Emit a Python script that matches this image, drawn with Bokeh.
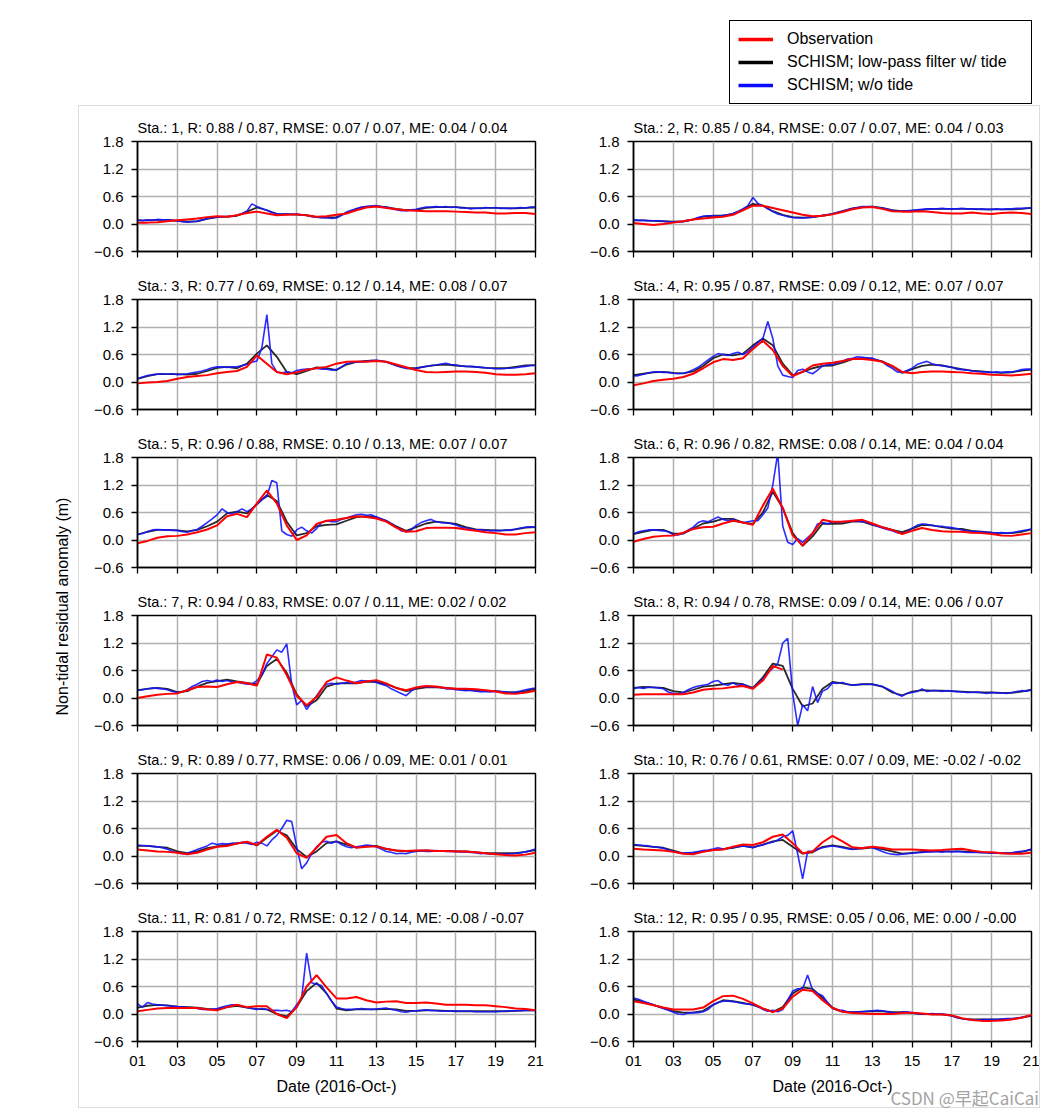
import numpy as np
from bokeh.plotting import figure
from bokeh.models import (Range1d, FixedTicker, Legend, LegendItem, Label, Div,
                          CustomJSTickFormatter)
from bokeh.layouts import row, column
from bokeh.embed import file_html
from bokeh.resources import INLINE

nan = np.nan

# ---------------- data ----------------
days_half = np.arange(1.0, 21.0001, 0.5)      # reading grid for smooth series
days_quarter = np.arange(1.0, 21.0001, 0.25)  # reading grid for the w/o-tide series

x_ticks = [1, 3, 5, 7, 9, 11, 13, 15, 17, 19, 21]
x_tick_labels = ["01", "03", "05", "07", "09", "11", "13", "15", "17", "19", "21"]
x_tick_blank = [""] * len(x_ticks)
y_ticks = [-0.6, 0.0, 0.6, 1.2, 1.8]
y_tick_labels = ["\u22120.6", "0.0", "0.6", "1.2", "1.8"]
x_axis_title = "Date (2016-Oct-)"
y_axis_title = "Non-tidal residual anomaly (m)"
series_names = ["Observation", "SCHISM; low-pass filter w/ tide", "SCHISM; w/o tide"]
watermark = "CSDN @早起CaiCai"

titles = [
    "Sta.: 1, R: 0.88 / 0.87, RMSE: 0.07 / 0.07, ME: 0.04 / 0.04",
    "Sta.: 2, R: 0.85 / 0.84, RMSE: 0.07 / 0.07, ME: 0.04 / 0.03",
    "Sta.: 3, R: 0.77 / 0.69, RMSE: 0.12 / 0.14, ME: 0.08 / 0.07",
    "Sta.: 4, R: 0.95 / 0.87, RMSE: 0.09 / 0.12, ME: 0.07 / 0.07",
    "Sta.: 5, R: 0.96 / 0.88, RMSE: 0.10 / 0.13, ME: 0.07 / 0.07",
    "Sta.: 6, R: 0.96 / 0.82, RMSE: 0.08 / 0.14, ME: 0.04 / 0.04",
    "Sta.: 7, R: 0.94 / 0.83, RMSE: 0.07 / 0.11, ME: 0.02 / 0.02",
    "Sta.: 8, R: 0.94 / 0.78, RMSE: 0.09 / 0.14, ME: 0.06 / 0.07",
    "Sta.: 9, R: 0.89 / 0.77, RMSE: 0.06 / 0.09, ME: 0.01 / 0.01",
    "Sta.: 10, R: 0.76 / 0.61, RMSE: 0.07 / 0.09, ME: -0.02 / -0.02",
    "Sta.: 11, R: 0.81 / 0.72, RMSE: 0.12 / 0.14, ME: -0.08 / -0.07",
    "Sta.: 12, R: 0.95 / 0.95, RMSE: 0.05 / 0.06, ME: 0.00 / -0.00",
]

# Station 1
obs_1 = [0.03, 0.03, 0.04, 0.06, 0.08, 0.10, 0.12, 0.15, 0.17, 0.16,
         0.19, 0.24, 0.27, 0.23, 0.19, 0.20, 0.21, 0.19, 0.16, 0.17,
         0.20, 0.23, 0.30, 0.36, 0.38, 0.35, 0.32, 0.30, 0.29, 0.28,
         0.28, 0.28, 0.27, 0.26, 0.25, 0.25, 0.23, 0.23, 0.24, 0.24, 0.22]
lp_1 = [0.08, 0.08, 0.09, 0.09, 0.07, 0.05, 0.06, 0.11, 0.15, 0.16,
        0.18, 0.27, 0.36, 0.30, 0.22, 0.21, 0.21, 0.19, 0.15, 0.14,
        0.15, 0.24, 0.33, 0.38, 0.39, 0.37, 0.33, 0.30, 0.31, 0.35,
        0.37, 0.37, 0.37, 0.35, 0.34, 0.35, 0.35, 0.34, 0.34, 0.35, 0.36]
nt_1 = [0.09, 0.07, 0.09, 0.08, 0.10, 0.09, 0.09, 0.08, 0.07, 0.05,
        0.04, 0.05, 0.06, 0.09, 0.12, 0.14, 0.15, 0.16, 0.16, 0.17,
        0.19, 0.23, 0.28, 0.44, 0.38, 0.34, 0.30, 0.25, 0.22, 0.21,
        0.22, 0.21, 0.21, 0.20, 0.19, 0.16, 0.15, 0.14, 0.14, 0.12,
        0.13, 0.19, 0.26, 0.30, 0.33, 0.37, 0.38, 0.39, 0.40, 0.38,
        0.37, 0.34, 0.31, 0.29, 0.29, 0.31, 0.32, 0.35, 0.37, 0.37,
        0.38, 0.37, 0.38, 0.36, 0.37, 0.35, 0.35, 0.33, 0.35, 0.34,
        0.36, 0.35, 0.36, 0.34, 0.35, 0.34, 0.35, 0.36, 0.35, 0.37, 0.37]

# Station 2
obs_2 = [0.02, 0.00, -0.02, 0.00, 0.03, 0.06, 0.10, 0.12, 0.14, 0.16,
         0.20, 0.30, 0.40, 0.40, 0.35, 0.30, 0.25, 0.20, 0.17, 0.18,
         0.21, 0.26, 0.32, 0.36, 0.37, 0.33, 0.28, 0.27, 0.27, 0.28,
         0.26, 0.24, 0.23, 0.23, 0.25, 0.23, 0.22, 0.24, 0.25, 0.24, 0.22]
lp_2 = [0.08, 0.08, 0.07, 0.06, 0.05, 0.06, 0.10, 0.16, 0.18, 0.18,
        0.22, 0.32, 0.44, 0.40, 0.28, 0.20, 0.15, 0.14, 0.15, 0.18,
        0.22, 0.28, 0.34, 0.37, 0.38, 0.35, 0.30, 0.28, 0.29, 0.31,
        0.33, 0.33, 0.33, 0.33, 0.33, 0.32, 0.32, 0.32, 0.32, 0.33, 0.35]
nt_2 = [0.09, 0.08, 0.08, 0.07, 0.07, 0.07, 0.06, 0.05, 0.05, 0.04,
        0.05, 0.07, 0.10, 0.14, 0.17, 0.18, 0.18, 0.17, 0.19, 0.20,
        0.23, 0.27, 0.33, 0.40, 0.58, 0.45, 0.40, 0.33, 0.27, 0.22,
        0.19, 0.16, 0.14, 0.13, 0.13, 0.14, 0.15, 0.17, 0.19, 0.20,
        0.22, 0.25, 0.28, 0.31, 0.34, 0.36, 0.38, 0.38, 0.38, 0.36,
        0.35, 0.32, 0.30, 0.28, 0.28, 0.29, 0.30, 0.31, 0.32, 0.33,
        0.33, 0.33, 0.34, 0.33, 0.33, 0.33, 0.34, 0.33, 0.33, 0.32,
        0.33, 0.32, 0.32, 0.33, 0.32, 0.33, 0.33, 0.34, 0.34, 0.35, 0.35]

# Station 3
obs_3 = [-0.03, -0.01, 0.00, 0.02, 0.07, 0.11, 0.13, 0.15, 0.19, 0.22,
         0.24, 0.33, 0.58, 0.40, 0.22, 0.17, 0.21, 0.27, 0.30, 0.33,
         0.40, 0.44, 0.45, 0.44, 0.46, 0.44, 0.38, 0.32, 0.26, 0.22,
         0.21, 0.22, 0.23, 0.23, 0.22, 0.20, 0.17, 0.16, 0.16, 0.17, 0.19]
lp_3 = [0.07, 0.13, 0.17, 0.17, 0.17, 0.16, 0.18, 0.24, 0.31, 0.33,
        0.30, 0.40, 0.62, 0.80, 0.55, 0.22, 0.17, 0.24, 0.32, 0.30,
        0.26, 0.38, 0.44, 0.46, 0.47, 0.44, 0.36, 0.30, 0.30, 0.34,
        0.37, 0.38, 0.36, 0.34, 0.33, 0.31, 0.30, 0.30, 0.33, 0.36, 0.37]
nt_3 = [0.07, 0.11, 0.14, 0.16, 0.17, 0.18, 0.17, 0.18, 0.16, 0.17,
        0.18, 0.20, 0.22, 0.24, 0.27, 0.31, 0.33, 0.33, 0.32, 0.33,
        0.33, 0.36, 0.38, 0.43, 0.46, 0.75, 1.47, 0.40, 0.22, 0.20,
        0.22, 0.20, 0.25, 0.27, 0.28, 0.29, 0.30, 0.28, 0.28, 0.26,
        0.27, 0.33, 0.40, 0.42, 0.44, 0.44, 0.45, 0.47, 0.47, 0.46,
        0.44, 0.40, 0.36, 0.32, 0.30, 0.29, 0.30, 0.32, 0.34, 0.36,
        0.37, 0.39, 0.41, 0.38, 0.37, 0.35, 0.34, 0.34, 0.33, 0.32,
        0.31, 0.30, 0.29, 0.29, 0.30, 0.30, 0.31, 0.33, 0.34, 0.36, 0.36]

# Station 4
obs_4 = [-0.07, -0.03, 0.02, 0.05, 0.07, 0.11, 0.18, 0.30, 0.43, 0.50,
         0.48, 0.52, 0.72, 0.90, 0.70, 0.35, 0.13, 0.22, 0.36, 0.40,
         0.42, 0.46, 0.50, 0.50, 0.48, 0.44, 0.35, 0.22, 0.19, 0.22,
         0.23, 0.23, 0.22, 0.21, 0.19, 0.18, 0.16, 0.15, 0.14, 0.16, 0.18]
lp_4 = [0.15, 0.18, 0.21, 0.22, 0.20, 0.19, 0.23, 0.35, 0.52, 0.60,
        0.58, 0.62, 0.80, 0.95, 0.80, 0.40, 0.15, 0.22, 0.30, 0.35,
        0.36, 0.42, 0.50, 0.52, 0.50, 0.45, 0.35, 0.20, 0.28, 0.35,
        0.38, 0.36, 0.32, 0.28, 0.25, 0.23, 0.21, 0.20, 0.21, 0.25, 0.27]
nt_4 = [0.13, 0.14, 0.17, 0.20, 0.22, 0.22, 0.21, 0.21, 0.19, 0.18,
        0.19, 0.22, 0.27, 0.32, 0.40, 0.48, 0.56, 0.62, 0.60, 0.58,
        0.62, 0.65, 0.60, 0.66, 0.76, 0.86, 0.95, 1.32, 0.95, 0.35,
        0.15, 0.12, 0.10, 0.25, 0.28, 0.22, 0.18, 0.26, 0.35, 0.38,
        0.38, 0.42, 0.45, 0.50, 0.52, 0.55, 0.54, 0.53, 0.52, 0.48,
        0.44, 0.36, 0.30, 0.22, 0.21, 0.25, 0.30, 0.38, 0.42, 0.45,
        0.40, 0.37, 0.36, 0.34, 0.32, 0.28, 0.27, 0.26, 0.24, 0.23,
        0.22, 0.22, 0.21, 0.22, 0.21, 0.22, 0.22, 0.24, 0.27, 0.28, 0.28]

# Station 5
obs_5 = [-0.07, -0.02, 0.05, 0.08, 0.09, 0.12, 0.17, 0.23, 0.32, 0.52,
         0.57, 0.50, 0.80, 1.08, 0.80, 0.32, 0.00, 0.10, 0.35, 0.42,
         0.44, 0.48, 0.52, 0.50, 0.47, 0.40, 0.27, 0.18, 0.19, 0.26,
         0.27, 0.27, 0.26, 0.23, 0.20, 0.17, 0.15, 0.12, 0.12, 0.15, 0.17]
lp_5 = [0.12, 0.18, 0.22, 0.22, 0.21, 0.19, 0.22, 0.30, 0.40, 0.58,
        0.62, 0.58, 0.78, 0.98, 0.85, 0.40, 0.10, 0.15, 0.30, 0.33,
        0.34, 0.42, 0.50, 0.52, 0.50, 0.42, 0.30, 0.20, 0.28, 0.36,
        0.40, 0.38, 0.35, 0.28, 0.23, 0.22, 0.21, 0.21, 0.23, 0.27, 0.28]
nt_5 = [0.12, 0.14, 0.18, 0.22, 0.23, 0.22, 0.22, 0.21, 0.21, 0.18,
        0.17, 0.20, 0.23, 0.30, 0.38, 0.46, 0.55, 0.68, 0.60, 0.56,
        0.62, 0.68, 0.62, 0.68, 0.78, 0.88, 0.95, 1.30, 1.25, 0.20,
        0.12, 0.08, 0.22, 0.28, 0.20, 0.15, 0.25, 0.38, 0.42, 0.40,
        0.40, 0.45, 0.48, 0.52, 0.55, 0.56, 0.54, 0.55, 0.50, 0.46,
        0.42, 0.35, 0.28, 0.20, 0.18, 0.22, 0.32, 0.38, 0.42, 0.45,
        0.40, 0.38, 0.37, 0.36, 0.33, 0.28, 0.26, 0.24, 0.22, 0.22,
        0.21, 0.20, 0.21, 0.20, 0.22, 0.21, 0.24, 0.26, 0.28, 0.29, 0.28]

# Station 6
obs_6 = [-0.04, 0.02, 0.07, 0.09, 0.10, 0.16, 0.24, 0.28, 0.29, 0.36,
         0.42, 0.38, 0.33, 0.75, 1.12, 0.70, 0.10, -0.12, 0.15, 0.44,
         0.40, 0.40, 0.42, 0.44, 0.36, 0.28, 0.22, 0.13, 0.20, 0.26,
         0.22, 0.19, 0.18, 0.18, 0.16, 0.15, 0.13, 0.10, 0.09, 0.12, 0.15]
lp_6 = [0.13, 0.18, 0.22, 0.22, 0.14, 0.14, 0.25, 0.36, 0.40, 0.46,
        0.46, 0.38, 0.35, 0.60, 1.05, 0.70, 0.15, -0.13, 0.08, 0.36,
        0.35, 0.36, 0.40, 0.40, 0.33, 0.28, 0.22, 0.17, 0.25, 0.33,
        0.32, 0.28, 0.25, 0.24, 0.20, 0.18, 0.16, 0.15, 0.15, 0.18, 0.23]
nt_6 = [0.13, 0.18, 0.20, 0.22, 0.22, 0.21, 0.20, 0.18, 0.12, 0.11,
        0.15, 0.22, 0.28, 0.38, 0.42, 0.40, 0.45, 0.50, 0.45, 0.42,
        0.45, 0.40, 0.38, 0.40, 0.42, 0.42, 0.55, 0.70, 1.20, 1.90,
        0.30, -0.05, -0.10, 0.03, -0.05, 0.05, 0.15, 0.35, 0.38, 0.35,
        0.40, 0.38, 0.40, 0.40, 0.41, 0.42, 0.40, 0.38, 0.34, 0.30,
        0.26, 0.23, 0.20, 0.16, 0.14, 0.17, 0.26, 0.32, 0.35, 0.34,
        0.32, 0.30, 0.30, 0.28, 0.27, 0.25, 0.22, 0.20, 0.19, 0.18,
        0.18, 0.17, 0.16, 0.15, 0.16, 0.15, 0.16, 0.18, 0.20, 0.22, 0.24]

# Station 7
obs_7 = [0.00, 0.04, 0.07, 0.09, 0.10, 0.17, 0.24, 0.25, 0.24, 0.30,
         0.35, 0.32, 0.27, 0.95, 0.88, 0.50, 0.05, -0.16, 0.02, 0.35,
         0.45, 0.38, 0.32, 0.36, 0.39, 0.32, 0.22, 0.17, 0.23, 0.26,
         0.25, 0.22, 0.20, 0.20, 0.19, 0.17, 0.14, 0.10, 0.09, 0.12, 0.16]
lp_7 = [0.17, 0.20, 0.22, 0.20, 0.13, 0.15, 0.25, 0.33, 0.37, 0.40,
        0.36, 0.33, 0.30, 0.70, 0.85, 0.55, 0.08, -0.18, -0.05, 0.25,
        0.32, 0.32, 0.32, 0.36, 0.35, 0.30, 0.22, 0.15, 0.20, 0.23,
        0.23, 0.22, 0.20, 0.18, 0.16, 0.15, 0.15, 0.13, 0.12, 0.15, 0.20]
nt_7 = [0.17, 0.18, 0.20, 0.22, 0.21, 0.20, 0.18, 0.14, 0.12, 0.13,
        0.18, 0.25, 0.30, 0.36, 0.38, 0.36, 0.39, 0.36, 0.38, 0.35,
        0.35, 0.32, 0.30, 0.30, 0.38, 0.50, 0.75, 0.90, 1.05, 1.00,
        1.18, 0.30, -0.15, -0.05, -0.25, -0.10, 0.05, 0.20, 0.30, 0.32,
        0.30, 0.32, 0.34, 0.32, 0.35, 0.38, 0.37, 0.36, 0.34, 0.30,
        0.27, 0.20, 0.15, 0.10, 0.05, 0.15, 0.22, 0.25, 0.24, 0.25,
        0.24, 0.23, 0.20, 0.20, 0.18, 0.17, 0.16, 0.17, 0.15, 0.14,
        0.14, 0.13, 0.15, 0.14, 0.13, 0.12, 0.13, 0.15, 0.18, 0.20, 0.22]

# Station 8 (observation record ends after the peak)
obs_8 = [0.07, 0.08, 0.08, 0.08, 0.08, 0.08, 0.12, 0.18, 0.20, 0.21,
         0.24, 0.26, 0.20, 0.38, 0.70, 0.62, nan, nan, nan, nan,
         nan, nan, nan, nan, nan, nan, nan, nan, nan, nan,
         nan, nan, nan, nan, nan, nan, nan, nan, nan, nan, nan]
lp_8 = [0.22, 0.24, 0.23, 0.22, 0.15, 0.12, 0.18, 0.25, 0.27, 0.30,
        0.33, 0.30, 0.22, 0.45, 0.75, 0.70, 0.20, -0.18, -0.12, 0.20,
        0.35, 0.32, 0.28, 0.30, 0.30, 0.25, 0.12, 0.06, 0.14, 0.17,
        0.16, 0.16, 0.15, 0.14, 0.13, 0.12, 0.12, 0.11, 0.11, 0.14, 0.18]
nt_8 = [0.20, 0.23, 0.21, 0.24, 0.23, 0.22, 0.20, 0.13, 0.10, 0.09,
        0.12, 0.18, 0.23, 0.26, 0.28, 0.30, 0.36, 0.38, 0.30, 0.28,
        0.33, 0.27, 0.30, 0.25, 0.22, 0.30, 0.42, 0.55, 0.65, 0.75,
        1.20, 1.30, 0.10, -0.60, -0.15, -0.28, 0.25, -0.10, 0.15, 0.20,
        0.33, 0.32, 0.34, 0.30, 0.28, 0.29, 0.30, 0.30, 0.30, 0.28,
        0.25, 0.20, 0.15, 0.08, 0.04, 0.10, 0.12, 0.14, 0.20, 0.14,
        0.16, 0.16, 0.14, 0.16, 0.15, 0.14, 0.13, 0.12, 0.12, 0.13,
        0.12, 0.10, 0.12, 0.11, 0.11, 0.10, 0.12, 0.14, 0.16, 0.15, 0.18]

# Station 9
obs_9 = [0.14, 0.12, 0.10, 0.09, 0.07, 0.04, 0.07, 0.14, 0.20, 0.22,
         0.27, 0.31, 0.24, 0.42, 0.57, 0.40, 0.06, -0.04, 0.18, 0.42,
         0.46, 0.28, 0.18, 0.20, 0.21, 0.16, 0.12, 0.11, 0.12, 0.12,
         0.11, 0.11, 0.10, 0.10, 0.08, 0.06, 0.04, 0.02, 0.01, 0.03, 0.07]
lp_9 = [0.22, 0.22, 0.20, 0.18, 0.10, 0.06, 0.10, 0.17, 0.21, 0.24,
        0.28, 0.30, 0.23, 0.40, 0.55, 0.45, 0.15, -0.02, 0.10, 0.28,
        0.32, 0.25, 0.19, 0.21, 0.22, 0.15, 0.12, 0.10, 0.11, 0.12,
        0.11, 0.11, 0.10, 0.10, 0.08, 0.06, 0.06, 0.06, 0.06, 0.09, 0.13]
nt_9 = [0.24, 0.23, 0.22, 0.21, 0.20, 0.18, 0.15, 0.10, 0.07, 0.05,
        0.06, 0.10, 0.14, 0.18, 0.22, 0.28, 0.25, 0.27, 0.26, 0.28,
        0.27, 0.30, 0.28, 0.25, 0.30, 0.28, 0.22, 0.35, 0.45, 0.60,
        0.78, 0.75, 0.20, -0.28, -0.15, 0.05, 0.20, 0.30, 0.32, 0.28,
        0.32, 0.25, 0.20, 0.18, 0.20, 0.22, 0.24, 0.23, 0.20, 0.15,
        0.10, 0.08, 0.05, 0.06, 0.05, 0.08, 0.10, 0.12, 0.10, 0.10,
        0.12, 0.11, 0.10, 0.10, 0.10, 0.09, 0.09, 0.08, 0.07, 0.05,
        0.06, 0.04, 0.05, 0.04, 0.04, 0.05, 0.06, 0.07, 0.09, 0.12, 0.15]

# Station 10
obs_10 = [0.16, 0.14, 0.13, 0.12, 0.09, 0.05, 0.04, 0.09, 0.13, 0.14,
          0.20, 0.25, 0.24, 0.30, 0.42, 0.47, 0.28, 0.06, 0.10, 0.30,
          0.44, 0.32, 0.19, 0.17, 0.20, 0.18, 0.14, 0.14, 0.14, 0.13,
          0.12, 0.13, 0.15, 0.16, 0.12, 0.09, 0.08, 0.06, 0.05, 0.05, 0.07]
lp_10 = [0.24, 0.22, 0.20, 0.18, 0.12, 0.06, 0.06, 0.10, 0.13, 0.15,
         0.18, 0.22, 0.19, 0.25, 0.32, 0.35, 0.20, 0.05, 0.08, 0.20,
         0.23, 0.20, 0.15, 0.16, 0.19, 0.15, 0.10, 0.05, 0.07, 0.09,
         0.10, 0.10, 0.10, 0.10, 0.09, 0.08, 0.07, 0.06, 0.06, 0.09, 0.14]
nt_10 = [0.25, 0.24, 0.23, 0.22, 0.20, 0.19, 0.17, 0.13, 0.10, 0.07,
         0.06, 0.07, 0.08, 0.10, 0.12, 0.13, 0.15, 0.18, 0.15, 0.17,
         0.18, 0.20, 0.22, 0.20, 0.18, 0.22, 0.24, 0.28, 0.30, 0.35,
         0.42, 0.45, 0.55, 0.05, -0.50, 0.10, 0.10, 0.15, 0.18, 0.20,
         0.22, 0.20, 0.18, 0.16, 0.14, 0.16, 0.18, 0.19, 0.18, 0.14,
         0.10, 0.06, 0.04, 0.03, 0.04, 0.05, 0.06, 0.07, 0.08, 0.09,
         0.09, 0.10, 0.08, 0.10, 0.09, 0.10, 0.09, 0.08, 0.08, 0.08,
         0.07, 0.07, 0.06, 0.06, 0.06, 0.07, 0.07, 0.09, 0.10, 0.12, 0.15]

# Station 11
obs_11 = [0.06, 0.09, 0.12, 0.13, 0.13, 0.13, 0.13, 0.10, 0.08, 0.15,
          0.20, 0.15, 0.17, 0.17, 0.00, -0.09, 0.15, 0.60, 0.85, 0.58,
          0.34, 0.34, 0.37, 0.30, 0.25, 0.27, 0.28, 0.24, 0.24, 0.25,
          0.23, 0.20, 0.20, 0.20, 0.19, 0.19, 0.17, 0.15, 0.12, 0.11, 0.08]
lp_11 = [0.14, 0.18, 0.20, 0.19, 0.16, 0.15, 0.14, 0.11, 0.10, 0.15,
         0.18, 0.14, 0.11, 0.10, 0.00, -0.05, 0.15, 0.50, 0.68, 0.45,
         0.12, 0.08, 0.10, 0.10, 0.10, 0.11, 0.10, 0.07, 0.07, 0.08,
         0.08, 0.07, 0.06, 0.06, 0.06, 0.06, 0.06, 0.06, 0.07, 0.08, 0.08]
nt_11 = [0.22, 0.15, 0.25, 0.22, 0.20, 0.19, 0.18, 0.17, 0.16, 0.15,
         0.14, 0.14, 0.12, 0.10, 0.10, 0.10, 0.12, 0.15, 0.18, 0.20,
         0.20, 0.17, 0.14, 0.12, 0.10, 0.12, 0.10, 0.08, 0.08, 0.07,
         0.08, 0.05, 0.20, 0.35, 1.33, 0.68, 0.65, 0.62, 0.45, 0.28,
         0.15, 0.12, 0.10, 0.10, 0.11, 0.12, 0.11, 0.10, 0.11, 0.12,
         0.13, 0.10, 0.08, 0.05, 0.04, 0.06, 0.07, 0.08, 0.09, 0.08,
         0.07, 0.06, 0.06, 0.07, 0.06, 0.06, 0.06, 0.06, 0.05, 0.05,
         0.05, 0.05, 0.05, 0.06, 0.06, 0.07, 0.07, 0.07, 0.08, 0.08, 0.08]

# Station 12
obs_12 = [0.28, 0.24, 0.19, 0.14, 0.10, 0.10, 0.10, 0.14, 0.28, 0.39,
          0.40, 0.33, 0.23, 0.12, 0.04, 0.12, 0.38, 0.53, 0.50, 0.30,
          0.13, 0.05, 0.02, 0.01, 0.00, 0.00, 0.00, 0.02, 0.03, 0.01,
          -0.01, -0.01, -0.03, -0.09, -0.13, -0.15, -0.15, -0.14, -0.12, -0.08, -0.02]
lp_12 = [0.32, 0.26, 0.20, 0.13, 0.06, 0.03, 0.03, 0.07, 0.20, 0.30,
         0.28, 0.24, 0.20, 0.12, 0.05, 0.15, 0.45, 0.58, 0.55, 0.35,
         0.14, 0.05, 0.04, 0.05, 0.06, 0.06, 0.04, 0.04, 0.02, 0.00,
         0.00, -0.01, -0.04, -0.10, -0.12, -0.12, -0.12, -0.12, -0.11, -0.08, -0.04]
nt_12 = [0.35, 0.32, 0.28, 0.24, 0.20, 0.16, 0.12, 0.08, 0.04, 0.00,
         -0.01, 0.02, 0.03, 0.03, 0.05, 0.10, 0.20, 0.25, 0.28, 0.28,
         0.27, 0.25, 0.23, 0.22, 0.20, 0.16, 0.10, 0.06, 0.08, 0.05,
         0.10, 0.30, 0.50, 0.55, 0.55, 0.85, 0.52, 0.45, 0.40, 0.25,
         0.12, 0.08, 0.08, 0.05, 0.04, 0.04, 0.05, 0.06, 0.07, 0.08,
         0.07, 0.05, 0.03, 0.02, 0.04, 0.05, 0.03, 0.01, 0.00, 0.00,
         0.01, 0.00, 0.00, -0.01, -0.04, -0.08, -0.10, -0.12, -0.12, -0.13,
         -0.12, -0.12, -0.12, -0.12, -0.11, -0.10, -0.10, -0.09, -0.07, -0.05, -0.04]

observations = [obs_1, obs_2, obs_3, obs_4, obs_5, obs_6, obs_7, obs_8, obs_9, obs_10, obs_11, obs_12]
lowpass = [lp_1, lp_2, lp_3, lp_4, lp_5, lp_6, lp_7, lp_8, lp_9, lp_10, lp_11, lp_12]
notide = [nt_1, nt_2, nt_3, nt_4, nt_5, nt_6, nt_7, nt_8, nt_9, nt_10, nt_11, nt_12]

# ---------------- styling ----------------
FONT = "Liberation Sans"
RED, BLACK, BLUE = "#ff0000", "#111111", "#1414ff"
FRAME_GRAY = "#dddddd"


def lookup_formatter(values, labels):
    return CustomJSTickFormatter(args=dict(vals=values, labs=labels), code="""
        for (let i = 0; i < vals.length; i++) {
            if (Math.abs(vals[i] - tick) < 1e-6) { return labs[i]; }
        }
        return "";
    """)


def make_panel(k, is_left, is_bottom):
    width = 496 if is_left else 464
    height = 211 if is_bottom else 158
    p = figure(width=width, height=height,
               min_border_left=58, min_border_right=(40 if is_left else 8),
               min_border_top=35, min_border_bottom=height - 35 - 110,
               x_range=Range1d(1, 21), y_range=Range1d(-0.6, 1.8),
               title=titles[k], output_backend="svg", toolbar_location=None)
    p.title.text_font = FONT
    p.title.text_font_size = "14.5px"
    p.title.text_font_style = "normal"
    p.title.align = "left"
    p.title.standoff = 11
    p.title.text_color = "black"

    p.xaxis.ticker = FixedTicker(ticks=x_ticks)
    p.yaxis.ticker = FixedTicker(ticks=y_ticks)
    p.xgrid.ticker = FixedTicker(ticks=x_ticks)
    p.ygrid.ticker = FixedTicker(ticks=y_ticks)
    p.yaxis.formatter = lookup_formatter(y_ticks, y_tick_labels)
    for ax in (p.xaxis, p.yaxis):
        ax.major_tick_in = 0
        ax.major_tick_out = 6
        ax.major_tick_line_width = 1.3
        ax.major_tick_line_color = "black"
        ax.minor_tick_line_color = None
        ax.axis_line_color = "black"
        ax.axis_line_width = 1.5
        ax.major_label_text_font = FONT
        ax.major_label_text_font_size = "15px"
        ax.major_label_text_color = "black"
    p.yaxis.major_label_standoff = 8
    if is_bottom:
        p.xaxis.formatter = lookup_formatter(x_ticks, x_tick_labels)
        p.xaxis.major_label_standoff = 8
        p.xaxis.axis_label = x_axis_title
        p.xaxis.axis_label_text_font = FONT
        p.xaxis.axis_label_text_font_size = "16px"
        p.xaxis.axis_label_text_font_style = "normal"
        p.xaxis.axis_label_text_color = "black"
        p.xaxis.axis_label_standoff = 9
    else:
        p.xaxis.formatter = lookup_formatter(x_ticks, x_tick_blank)
        p.xaxis.major_label_text_font_size = "1px"
        p.xaxis.major_label_standoff = 0

    p.grid.grid_line_color = "#b0b0b0"
    p.grid.grid_line_width = 1.5
    p.outline_line_color = "black"
    p.outline_line_width = 1.5
    p.outline_line_alpha = 1.0

    p.line(days_half, np.array(lowpass[k], dtype=float), color=BLACK, line_width=1.8, line_alpha=0.9)
    p.line(days_quarter, np.array(notide[k], dtype=float), color=BLUE, line_width=1.6, line_alpha=0.9)
    p.line(days_half, np.array(observations[k], dtype=float), color=RED, line_width=2.0)
    return p


panels = []
for r in range(6):
    left = make_panel(2 * r, True, r == 5)
    right = make_panel(2 * r + 1, False, r == 5)
    panels.append((left, right))

grid = column(*[row(l, r) for l, r in panels])

# header with legend (dummy renderers sit outside the visible ranges)
header = figure(width=1040, height=105, x_range=Range1d(0, 1), y_range=Range1d(0, 1),
                x_axis_type=None, y_axis_type=None, min_border=0,
                outline_line_color=None, output_backend="svg", toolbar_location=None)
header.grid.visible = False
r_obs = header.line(x=[-5, -4], y=[-5, -5], color=RED, line_width=3.5)
r_lp = header.line(x=[-5, -4], y=[-5, -5], color="black", line_width=3.5)
r_nt = header.line(x=[-5, -4], y=[-5, -5], color="#0a0aff", line_width=3.5)
legend = Legend(items=[LegendItem(label=series_names[0], renderers=[r_obs]),
                       LegendItem(label=series_names[1], renderers=[r_lp]),
                       LegendItem(label=series_names[2], renderers=[r_nt])],
                location=(729, 1), orientation="vertical",
                border_line_color="black", border_line_width=1.2, border_line_alpha=1.0,
                background_fill_color="white", background_fill_alpha=1.0,
                label_text_font=FONT, label_text_font_size="16px", label_text_color="black",
                glyph_width=35, glyph_height=20, label_height=20, label_width=236,
                label_standoff=14, spacing=3, padding=8, margin=0)
header.add_layout(legend)

# y-axis title column
ylab = figure(width=78, height=1003, x_range=Range1d(0, 1), y_range=Range1d(0, 1),
              x_axis_type=None, y_axis_type=None, min_border=0,
              outline_line_color=None, output_backend="svg", toolbar_location=None)
ylab.grid.visible = False
ylab.add_layout(Label(x=62, y=502, x_units="screen", y_units="screen", text=y_axis_title,
                      angle=90, angle_units="deg", text_align="center", text_baseline="middle",
                      text_font=FONT, text_font_size="16px", text_color="black"))


def rule(w, h):
    return Div(text="", width=w, height=h, margin=(0, 0, 0, 0),
               styles={"background-color": FRAME_GRAY})


# watermark overlapping the bottom-right corner of the last row
mark = Div(text=watermark, width=962, height=19, margin=(-19, -2, 0, 0),
           styles={"position": "relative", "z-index": "10", "text-align": "right",
                   "color": "#a3a3a3", "font-family": "Noto Sans CJK SC",
                   "font-size": "17px", "line-height": "19px", "white-space": "nowrap",
                   "overflow": "visible"})

body = row(ylab, rule(1, 1003), column(rule(960, 1), grid, mark, rule(960, 1)), rule(1, 1003))
page = column(header, body)

open("out.html", "w").write(file_html(page, INLINE))
